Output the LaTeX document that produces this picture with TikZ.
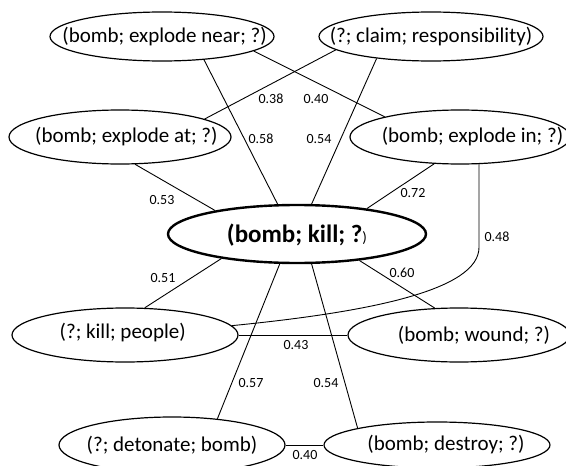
\documentclass[tikz,border=0pt]{standalone}
\usepackage{fontspec}
\setmainfont{Carlito}
\usetikzlibrary{shapes.geometric}
\begin{document}
\begin{tikzpicture}[x=1pt,y=-1pt,
  el/.style={ellipse, draw, line width=1.2pt, inner sep=0pt},
  elmain/.style={ellipse, draw, line width=2.4pt, inner sep=0pt},
  eltext/.style={font=\fontsize{21}{25}\selectfont, inner sep=0pt},
  wt/.style={font=\fontsize{14}{16}\selectfont, inner sep=0pt},
  edge/.style={line width=0.9pt}]
\useasboundingbox (0,0) rectangle (566,466);
\clip (0,0) rectangle (566,466);

% ellipses
\node[el, minimum width=224pt, minimum height=49pt] (A) at (162,36.5) {};
\node[el, minimum width=224pt, minimum height=49pt] (B) at (431,36.5) {};
\node[el, minimum width=222pt, minimum height=54pt] (C) at (120,137) {};
\node[el, minimum width=220pt, minimum height=54pt] (D) at (460,137) {};
\node[elmain, minimum width=258pt, minimum height=58pt] (E) at (297,234) {};
\node[el, minimum width=226pt, minimum height=54pt] (F) at (125,335) {};
\node[el, minimum width=222pt, minimum height=54pt] (G) at (459,335) {};
\node[el, minimum width=226pt, minimum height=56pt] (H) at (172,445) {};
\node[el, minimum width=226pt, minimum height=46pt] (I) at (437,445) {};

% texts
\node[eltext] (At) at (164.6,37) {(bomb; explode near; ?)};
\node[eltext] (Bt) at (431,37) {(?; claim; responsibility)};
\node[eltext] (Ct) at (126.4,137) {(bomb; explode at; ?)};
\node[eltext] (Dt) at (472.5,137) {(bomb; explode in; ?)};
\node[inner sep=0pt] (Et) at (297,235) {{\fontsize{25}{30}\selectfont\bfseries (bomb; kill; ?}{\fontsize{15}{18}\selectfont )}};
\node[eltext] (Ft) at (122.7,333) {(?; kill; people)};
\node[eltext] (Gt) at (474,335) {(bomb; wound; ?)};
\node[eltext] (Ht) at (172,445) {(?; detonate; bomb)};
\node[eltext] (It) at (446,445) {(bomb; destroy; ?)};

% connectors
\draw[edge] (A.-29) -- (E.123.5);
\draw[edge] (B.202.5) -- (E.64);
\draw[edge] (A.-9.5) -- (D.165.6);
\draw[edge] (B.188.7) -- (C.12);
\draw[edge] (C.-61) -- (E.164);
\draw[edge] (D.226.5) -- (E.20);
\draw[edge] (D.305.5) -- ++(0,83) .. controls +(0,43) and (370,312) .. (F.5);
\draw[edge] (E.198) -- (F.54.5);
\draw[edge] (E.337.7) -- (G.132.3);
\draw[edge] (F.east) -- (G.west);
\draw[edge] (E.240) -- (H.30);
\draw[edge] (E.296) -- (I.168);
\draw[edge] (H.east) -- (I.west);

% weights
\node[wt] (w38) at (271,99) {0.38};
\node[wt] (w40a) at (316,99) {0.40};
\node[wt] (w58) at (261,139) {0.58};
\node[wt] (w54a) at (319,139) {0.54};
\node[wt] (w53) at (162,200) {0.53};
\node[wt] (w72) at (413,193) {0.72};
\node[wt] (w48) at (497,237) {0.48};
\node[wt] (w51) at (163,278) {0.51};
\node[wt] (w60) at (402,273) {0.60};
\node[wt] (w43) at (296,345) {0.43};
\node[wt] (w57) at (251,383) {0.57};
\node[wt] (w54b) at (326,383) {0.54};
\node[wt] (w40b) at (305,455) {0.40};
\end{tikzpicture}
\end{document}
